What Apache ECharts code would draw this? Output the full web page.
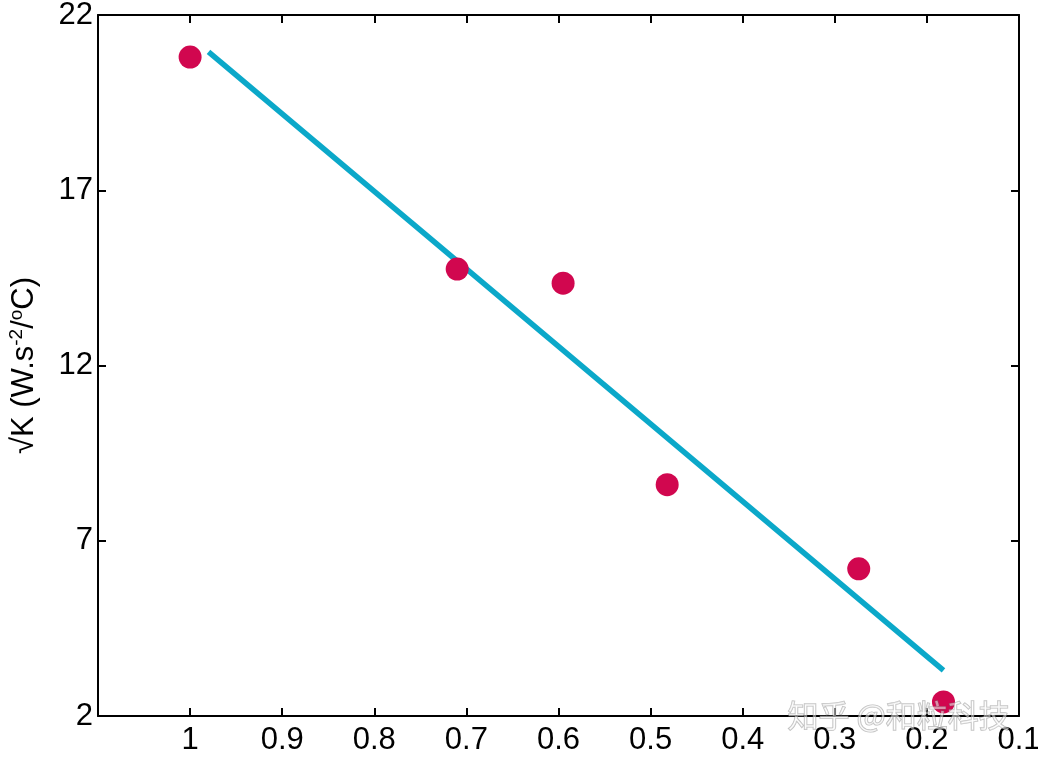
<!DOCTYPE html>
<html>
<head>
<meta charset="utf-8">
<script src="https://cdn.jsdelivr.net/npm/echarts@6/dist/echarts.min.js"></script>
<style>html,body{margin:0;padding:0;background:#fff}#c{width:1038px;height:765px}</style>
</head>
<body>
<div id="c"></div>
<script>
// measured points
const pointsX = [1.0, 0.71, 0.595, 0.482, 0.274, 0.182];
const pointsY = [20.8, 14.75, 14.35, 8.6, 6.2, 2.4];
// fitted line endpoints
const lineX = [0.98, 0.182];
const lineY = [20.95, 3.3];
const xTicks = [0.1, 0.2, 0.3, 0.4, 0.5, 0.6, 0.7, 0.8, 0.9, 1];
const yTicks = [2, 7, 12, 17, 22];

const chart = echarts.init(document.getElementById('c'));
const font = 'Liberation Sans, Arial, sans-serif';
const axisLine = {show: true, lineStyle: {color: '#000', width: 2}};
const tick = {show: true, inside: true, length: 8, lineStyle: {color: '#000', width: 2}};
function fmtX(v) {
  const r = Math.round(v * 10) / 10;
  return xTicks.some(t => Math.abs(t - r) < 1e-9) ? String(r) : '';
}
function fmtY(v) {
  return yTicks.indexOf(Math.round(v)) >= 0 ? String(Math.round(v)) : '';
}
chart.setOption({
  animation: false,
  backgroundColor: '#fff',
  grid: {left: 98, right: 19, top: 15, bottom: 49, containLabel: false, outerBoundsMode: 'none'},
  xAxis: [{
    type: 'value', inverse: true, min: 0.1, max: 1.1, interval: 0.1,
    axisLine: axisLine, axisTick: tick, splitLine: {show: false},
    axisLabel: {formatter: fmtX, color: '#000', fontSize: 31, fontFamily: font, margin: 9}
  }, {
    type: 'value', inverse: true, min: 0.1, max: 1.1, interval: 0.1, position: 'top',
    axisLine: axisLine, axisTick: tick, splitLine: {show: false}, axisLabel: {show: false}
  }],
  yAxis: [{
    type: 'value', min: 2, max: 22, interval: 5,
    axisLine: axisLine, axisTick: tick, splitLine: {show: false},
    axisLabel: {formatter: fmtY, color: '#000', fontSize: 31, fontFamily: font, margin: 5},
    name: '√K (W.s{sup|-2}/{sup|o}C)', nameLocation: 'middle', nameGap: 56,
    nameTextStyle: {color: '#000', fontSize: 31, fontFamily: font,
      rich: {sup: {fontSize: 19, verticalAlign: 'top', padding: [0, 0, 16, 0], color: '#000', fontFamily: font}}}
  }, {
    type: 'value', min: 2, max: 22, interval: 5, position: 'right',
    axisLine: axisLine, axisTick: tick, splitLine: {show: false}, axisLabel: {show: false}
  }],
  series: [{
    type: 'line', data: lineX.map((x, i) => [x, lineY[i]]), showSymbol: false,
    lineStyle: {color: '#0BA8C9', width: 5.5}, z: 2
  }, {
    type: 'scatter', data: pointsX.map((x, i) => [x, pointsY[i]]), symbolSize: 23,
    itemStyle: {color: '#D1074F', opacity: 1}, z: 3
  }],
  graphic: [{
    type: 'text', left: 787, top: 699, z: 10,
    style: {text: '知乎 @和粒科技', fontSize: 31, fontFamily: 'Noto Sans CJK SC, sans-serif',
      fill: 'rgba(255,255,255,0.5)', stroke: 'rgba(120,120,120,0.5)', lineWidth: 1.2}
  }]
});
</script>
</body>
</html>
